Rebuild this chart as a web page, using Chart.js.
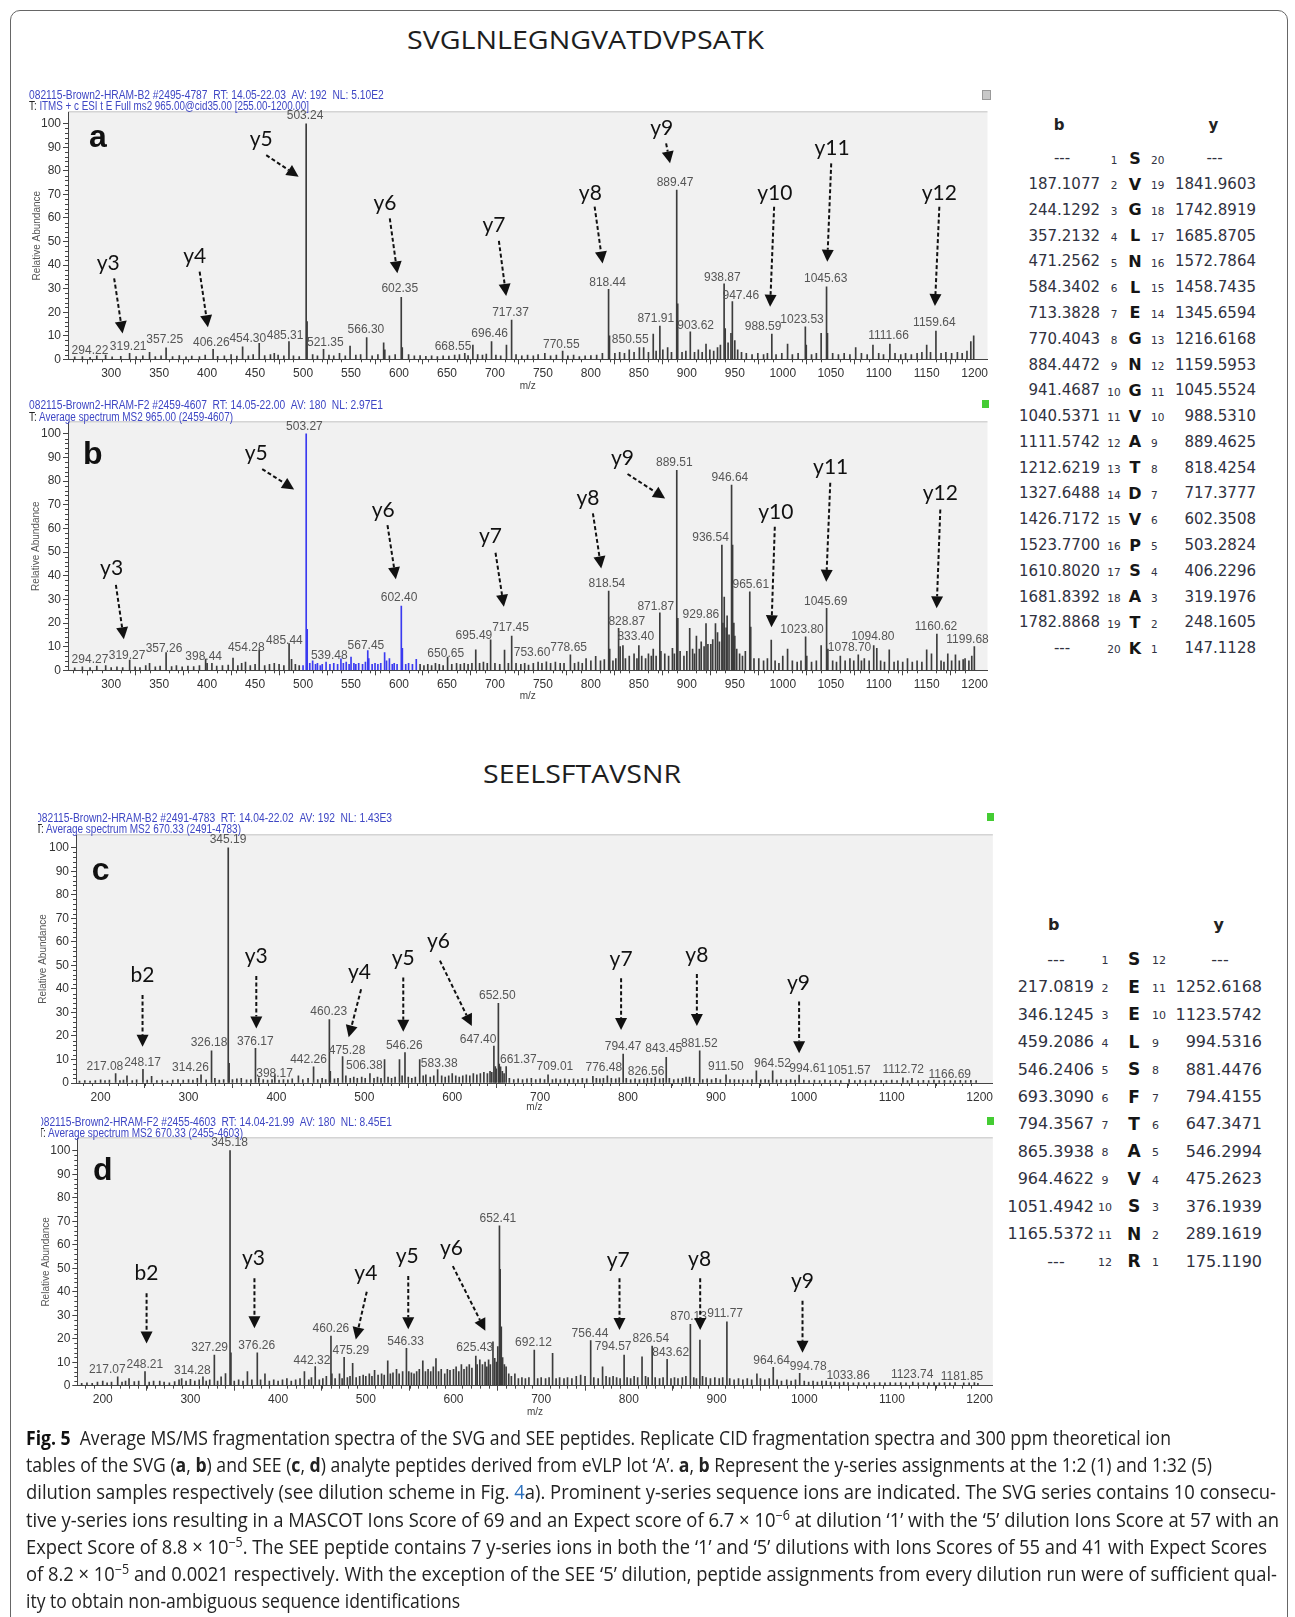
<!DOCTYPE html>
<html><head><meta charset="utf-8">
<script src="https://cdn.jsdelivr.net/npm/chart.js@4.4.1/dist/chart.umd.min.js"></script>
<style>
html,body{margin:0;padding:0;background:#fff;}
body{width:1295px;height:1617px;overflow:hidden;position:relative;}
.t{position:absolute;white-space:nowrap;line-height:1;transform-origin:0 50%;}
canvas{position:absolute;}
.clip{position:absolute;top:0;height:1617px;width:420px;overflow:hidden;}
.frame{position:absolute;left:10px;top:10px;width:1276px;height:1660px;border:1.5px solid #666;border-radius:10px;}
.icon{position:absolute;width:7px;height:8px;}
</style></head><body>
<div class="frame"></div>
<canvas id="ca" width="970" height="300" style="left:20px;top:100px"></canvas>
<canvas id="cb" width="970" height="300" style="left:20px;top:410px"></canvas>
<canvas id="cc" width="975" height="300" style="left:20px;top:822px"></canvas>
<canvas id="cd" width="975" height="300" style="left:20px;top:1125px"></canvas>
<div class="icon" style="left:982px;top:90px;background:#c8c8c8;border:1px solid #999"></div>
<div class="icon" style="left:982px;top:400px;background:#44cc33"></div>
<div class="icon" style="left:987px;top:813px;background:#44cc33"></div>
<div class="icon" style="left:987px;top:1117px;background:#44cc33"></div>
<script>
// ---------------- DATA ----------------
const xTicksSVG = [300,350,400,450,500,550,600,650,700,750,800,850,900,950,1000,1050,1100,1150,1200];
const xTicksSEE = [200,300,400,500,600,700,800,900,1000,1100,1200];
const yTicks = [0,10,20,30,40,50,60,70,80,90,100];

// panel a (SVG, dilution 1)
const mzA = [262,270,278,285,294.22,301,310,319.21,326,333,340,346,352,357.25,364,371,378,384,392,398,406.26,411,418,425,431,437,443,448,454.30,460,466,470,474,480,485.31,490,496,503.24,504.2,510,515,521.35,527,532,538,544,549,555,560,566.30,572,578,584,585.2,590,596,602.35,603.4,610,616,622,628,634,640,646,652,658,663,668.55,672,677,682,687,691,696.46,701,706,712,717.37,722,728,734,740,745,752,758,764,770.55,776,782,788,794,800,806,812,818.44,819.4,825,830,835,840,845,850.55,855,860,865,868,871.91,875,880,884,889.47,890.5,895,899,903.62,908,912,916,920,924,928,932,935,938.87,940,943,946,947.46,950,953,957,962,968,974,980,984,988.59,993,999,1005,1010,1016,1023.53,1024.5,1030,1035,1040,1045.63,1046.6,1052,1058,1064,1070,1076,1082,1088,1094,1100,1105,1111.66,1117,1123,1128,1134,1140,1145,1150,1154,1159.64,1165,1170,1176,1182,1187,1192,1196,1199];
const intA = [1,1.2,0.8,1.5,1.8,1,1.3,2.5,1.2,1.5,3,1.2,1.5,4.9,1.2,1.6,1,1.4,1.2,1.8,4.2,1.3,1.5,2,1.4,5.3,1.5,2,6.8,1.6,2,2.5,1.8,1.5,7.5,1.5,1.2,100,16,2,1.5,4.2,1.8,1.5,2.5,1.5,5.6,1.8,2,9.2,1.5,2,7,4,1.5,2,26.3,5,2,1.5,1.6,1.3,1.5,1.2,1.5,1.4,1.8,2,2.5,1.6,6,2,1.8,2.2,7.5,1.8,1.5,6,16.7,2,1.5,1.8,1.5,2,2.5,1.5,1.8,3.5,1.5,1.8,1.2,1.5,1.6,1.8,2.5,29.7,10,2.5,3,2.5,4,3,5,5,3,10.7,3.5,14.1,4,5,3,71.9,23.5,3,3.5,11.7,3,4,3,6.5,4,3.5,5,6,32,13,7,11,24.5,8,4,3,2.5,2,2.5,2,2.5,10.7,2,2.5,6.5,2,2.5,13.8,6,2,2.5,11,30.8,11,2.5,2,2.5,2,5,2.5,2,6,2.5,2,6.5,2.5,2,2.5,2,2.5,3,6,3,12,2.5,3,2.5,3,2.5,3.5,7.5,10];

// panel b (SVG, dilution 5): black trace and blue-highlighted region
const mzB = [262,270,278,285,294.27,300,306,312,319.27,325,330,336,340,346,351,357.26,363,368,374,380,386,392,398.44,400,405,410,416,422,427,432,436,440,445,450,454.28,460,465,470,475,480,485.44,488,492,496,622,626,630,634,638,642,646,650.65,655,660,664,668,672,676,680,684,688,692,695.49,700,705,710,714,717.45,722,727,731,735,740,745,749,753.60,758,763,768,772,778.65,783,787,791,795,800,805,810,814,818.54,819.6,823,826,828.87,830.5,833.40,836,840,845,848,850,853,857,860,863,865,868,871.87,873,877,881,885,887,889.51,890.6,893,897,900,903,906,908,910,913,915,918,920,922,925,927,929.86,932,934,936.54,937.6,939,941,942,944,946.64,947.7,949,950,952,955,958,961,965.61,966.6,970,975,980,984,988,992,996,1000,1005,1010,1015,1019,1023.80,1025,1030,1035,1040,1045.69,1047,1052,1056,1060,1065,1070,1074,1078.70,1082,1085,1090,1094.80,1098,1102,1106,1111,1116,1120,1125,1130,1135,1140,1145,1150,1155,1160.62,1165,1168,1172,1176,1180,1184,1188,1190,1194,1197,1199.68];
const intB = [1,1.5,1.2,1.8,2,1.2,1.5,1.2,4.3,1.5,1.2,2,3,1.5,1.8,7.5,1.6,2,1.5,1.8,1.6,2,4.7,3,3,1.8,2,2.2,5.2,2,3,3.5,2,2.5,8.5,2,2.5,3,2.5,2,11.3,4.6,2.5,2,2.5,2,2.5,2,3,2.5,2,5.6,2.5,3,2.5,3,2.5,3,8.7,3,3.5,3,12.9,3,2.5,8.6,3,14.5,3,2.5,3,2.2,3,3.5,3,3.6,3,3.5,3,3,6.5,3,3.5,3,5,4,5.9,4,4.5,33.5,9,4,5,17.7,10,10.5,5,6,7,5,10.5,6,5,7,6,9,6,24.3,8,7,6,9.3,7,84.6,22,8,6,8,17.7,9,7,14.5,9,12,10,19.8,11,11,13,19.8,16,12,53,20,31,18,23,15,78.3,53,20,14.5,9,7,6,8,33.2,18.3,5,5,4,5,12.8,4,3,6,9,4,3.5,4,14.2,6,3.5,4,10.5,26.2,9,4,3.5,6,4,5,4,6.5,4,5,4,10.5,9.3,4,3.5,8.7,3.5,4,3.5,5,3.5,4,3.5,8.7,7,15.3,4,3.5,7,4,6.5,4,4.5,5,4,6,10];
const mzBblue = [500,503.27,504.3,507,510,513,515,518,520,524,528,532,536,539.48,542,545,548,550,553,555,558,562,565,567.45,568.5,572,575,578,581,585,587,590,593,595,598,602.40,603.5,607,610,614,618];
const intBblue = [2,100,17.3,3,4,2.5,3,2,2.5,3.5,2.5,3,2.5,4.8,3,3.5,2.5,5.6,3,2.5,3,2.5,3.5,8.3,5,2.5,3,2.5,3,7.5,4,5,2.5,3,2.5,27.2,9.3,2.5,3,2.5,4.6];

// panel c (SEE, dilution 1)
const mzC = [176,182,188,194,200,205,210,217.08,222,226,230,236,241,248.17,253,258,264,270,276,282,288,294,300,305,310,314.26,320,326.18,330,335,340,345.19,346.2,350,355,360,366,371,376.17,380,385,390,395,398.17,403,408,413,418,425,430,436,442.26,447,452,456,460.23,461.3,466,470,475.28,479,484,488,492,497,501,506.38,511,515,519,523,527,531,535,540,543,546.26,550,554,558,563,567,570,575,579,583.38,588,592,596,600,604,608,612,616,620,624,628,632,636,640,643,645,647.40,649,650,652.50,653.5,655,657,659,661.37,665,670,675,680,685,690,695,700,705,709.01,714,718,723,728,733,738,743,748,753,760,764,768,772,776.48,781,786,790,794.47,798,803,808,813,818,822,826.56,831,836,840,843.45,847,852,857,862,866,870,875,881.52,885,890,895,900,905,911.50,916,921,926,931,936,941,946,951,956,960,964.52,969,974,980,985,990,994.61,1000,1006,1012,1018,1024,1030,1036,1042,1051.57,1058,1064,1070,1076,1082,1088,1094,1100,1106,1112.72,1118,1123,1130,1136,1142,1148,1154,1160,1166.69,1172,1178,1184,1190,1196];
const intC = [0.8,1,0.8,1,1.3,1,1.2,4,1,1.2,3,1,1.3,5.8,1.2,2.8,1,1.2,0.8,1.2,1.5,1.2,1.5,1.2,2,3.5,1.3,13.7,2,1.2,1.5,100,8.4,1.5,1.8,2,1.3,1.5,14.7,2.2,1.5,1.2,1.5,3.5,1.2,1.5,1.3,1.8,3,1.5,2,6.9,1.5,2,1.5,27,5,1.8,2,11.2,3,2,2.5,2,2.5,2,4,2,2.5,2,10,2.5,2,2.5,10,3,12.9,2.5,2,2.5,10,3,3.5,2.5,3,5.7,3,2.5,3,4,3,2.5,3,3.5,3,4,3.5,4,4.5,4,5,4.5,15.7,7,6,33.9,8,6.9,5,4,7,2,1.5,1.8,1.5,1.8,2,1.5,1.8,1.5,3.5,1.5,1.8,1.5,1.8,1.5,1.8,1.5,2,1.8,2.8,2,1.8,2,3,2,1.8,2.2,12.3,2,1.5,1.8,1.5,1.8,2,2,2.5,1.8,2,10.9,2,1.5,1.8,2,2.5,2.5,2,13.7,1.5,1.8,1.5,2,1.5,3.5,1.5,1.5,1.3,1.5,1.2,1.5,5.2,1.3,1.5,1.2,5.2,1.3,1.5,1.2,1.5,1.2,3.4,1.2,1,1.2,1,1.3,1,1.2,1,1.5,1,1.2,1,1.2,1,1.1,1,1.2,1,2.2,1,2,1,1.1,1,1.2,1,1.1,1,1,1.1,1,1.1,1];

// panel d (SEE, dilution 5)
const mzD = [176,182,188,194,200,205,210,217.07,222,226,230,236,241,248.21,253,258,265,270,276,282,287,290,295,300,305,310,314.28,318,322,327.29,331,335,340,345.18,346.2,350,355,360,365,370,376.26,380,385,390,395,400,405,410,415,420,425,430,435,438,442.32,447,451,455,460.26,461.3,465,470,473,475.29,479,482,485,489,493,497,500,504,507,510,514,518,521,525,528,531,535,538,542,546.33,549,552,555,558,561,565,568,571,574,577,580,583,586,590,593,596,600,603,606,609,612,615,618,621,625.43,627,630,633,636,638,640,642,645,647,649,650.5,652.41,653.2,654.5,656,658,660,663,666,670,674,678,682,686,692.12,696,700,705,709,713,717,721,726,730,735,740,745,750,756.44,760,765,770,774,778,782,786,790,794.57,798,802,806,810,815,819,822,826.54,830,835,839,843.62,848,852,856,861,865,870.13,874,877,881,884,888,893,898,903,907,911.77,915,920,925,930,935,940,946,950,955,960,964.64,969,974,980,985,990,994.78,1000,1005,1010,1015,1020,1025,1030,1035,1040,1045,1050,1056,1062,1068,1074,1080,1086,1092,1098,1104,1110,1116,1123.74,1130,1136,1142,1148,1154,1160,1166,1172,1181.85,1188,1194,1198];
const intD = [1,1.2,1,1.5,2,1.2,1.5,3.8,1.5,2,3,1.8,2,6,1.5,2,2,1.5,1.2,1.8,2.5,3,2,2.7,2,2.5,3.8,2,2.5,13,2,3.8,5.2,100,14,2,2.5,2,6,2.5,14,2.5,5,2,2.5,2,2.5,3,2,2.5,3,6,2.5,3.5,8.1,2.5,3,4,21.1,5,3,5,3,12.1,3.5,4,9.5,3.5,4,4.5,4,5,4,6.5,4.5,5,4.5,10.6,5,5.5,7,5,6,15.9,6,5.5,5,6,7,10.6,6,7,6,8,11.5,6,7,5,7,6.5,7,8,6,9,7,8,9,7.5,12.6,9,11,9,10,8,11,9,18.7,11.6,10,16.6,68,49.5,25,12,9,8,5,4,5,3,3.5,3,3.5,15.2,3,3.5,3,3.5,13.8,3,3.5,3,3.5,3,4,4.5,4,19.2,3.5,3,8,4,3.5,4,3.5,3,13,3.5,3,4,3.5,12.3,4,3.5,16.9,3.5,3,3.5,11.2,3,3.5,3,3.5,4,26.1,3.5,3,19.4,4,3.5,3,3.5,3,3.5,27.2,3,2.5,3,2.5,3,2.5,5,3,2.5,3,7.8,2.5,2,2.5,2,2.5,5.3,2,1.5,2,1.5,2,2,1.5,1.5,1.3,1.5,1.3,1.2,1.3,1.2,1.3,1.2,1.3,1.2,1.3,1.2,1.3,1.2,1.5,1.2,1.3,1.2,1.3,1.2,1.3,1.2,1.3,1.2,1.2,1.3,1];

// peak label annotations: [text, m/z position, abundance of label base]
const labelsA = [['294.22',277.9,2.0],['319.21',317.7,3.5],['357.25',355.8,6.3],['406.26',404.4,5.4],['454.30',442.4,7.1],['485.31',481.3,8.3],['503.24',502.1,101.4],['521.35',523.2,5.2],['566.30',565.5,10.8],['602.35',600.8,28.1],['668.55',656.3,3.7],['696.46',694.5,9.0],['717.37',716.2,17.9],['770.55',769.2,4.5],['818.44',817.4,30.9],['850.55',841,6.6],['871.91',867.6,15.4],['889.47',887.7,73.3],['903.62',909.2,12.6],['938.87',937,33],['947.46',956.3,25.3],['988.59',979.5,12],['1023.53',1020.1,15.1],['1045.63',1044.7,32.3],['1111.66',1110.2,8],['1159.64',1158,13.7]];
const labelsB = [['294.27',277.9,2.5],['319.27',316.6,4.4],['357.26',355.1,7.5],['398.44',396.4,4.1],['454.28',440.8,7.9],['485.44',480.6,10.9],['503.27',501.4,101.4],['539.48',527.3,4.4],['567.45',565.5,8.7],['602.40',600.1,28.8],['650.65',648.7,5.3],['695.49',678.1,12.9],['717.45',716.2,16.1],['753.60',738.7,5.6],['778.65',776.8,7.7],['818.54',816.7,34.7],['828.87',837.4,18.7],['833.40',846.8,12.3],['871.87',867.6,25],['889.51',887.0,86.1],['929.86',914.7,21.8],['936.54',924.8,54.2],['946.64',944.9,79.8],['965.61',966.7,34.4],['1023.80',1020.1,15.4],['1045.69',1044.7,27.3],['1078.70',1069.6,7.7],['1094.80',1093.9,12.6],['1160.62',1159.7,16.6],['1199.68',1192.6,11.2]];
const labelsC = [['217.08',204.9,4.9],['248.17',247.7,7.0],['314.26',302.2,4.6],['326.18',323.3,15.3],['345.19',344.9,101.7],['376.17',376.0,15.9],['398.17',397.9,2.2],['442.26',436.5,8.2],['460.23',459.5,28.4],['475.28',480.4,12.1],['506.38',500.0,5.7],['546.26',545.4,14.1],['583.38',585.2,6.5],['647.40',629.4,16.7],['652.50',651.3,35.4],['661.37',675.2,8.2],['709.01',716.8,4.9],['776.48',772.5,4.6],['794.47',794.4,13.6],['826.56',820.5,2.8],['843.45',840.6,12.7],['881.52',881.1,14.8],['911.50',911.3,4.9],['964.52',964.3,6.5],['994.61',1004.4,4.2],['1051.57',1051.3,3.2],['1112.72',1113.0,3.9],['1166.69',1166.0,1.8]];
const labelsD = [['217.07',205.2,5.1],['248.21',248.0,7.2],['314.28',302.2,4.6],['327.29',321.9,14.3],['345.18',344.6,101.5],['376.26',375.6,15.4],['442.32',438.6,8.6],['460.26',460.2,22.4],['475.29',483.0,12.9],['546.33',545.4,17.1],['625.43',624.2,14.3],['652.41',650.6,69.4],['692.12',691.2,16.4],['756.44',755.6,20.3],['794.57',782.1,14.6],['826.54',825.0,18.1],['843.62',847.7,12.2],['870.13',868.1,27.5],['911.77',909.7,28.8],['964.64',962.8,8.9],['994.78',1004.5,6.2],['1033.86',1050.0,2.5],['1123.74',1123.0,2.9],['1181.85',1179.9,2.0]];

// ion arrows: [ion, label m/z, label abundance, start m/z, start abundance, tip m/z, tip abundance]
const arrowsA = [['y3',296.9,41,303.1,34.4,311.9,11.0],['y4',387.0,43.8,392.2,37.2,400.8,13.6],['y5',456.4,93.4,461.6,86.7,495.4,77.5],['y6',585.3,66.2,590.4,59.8,598.3,36.5],['y7',698.9,57.0,704.1,50.3,711.7,26.9],['y8',799.4,70.7,803.9,64.8,812.2,40.7],['y9',873.8,98.0,878.4,91.7,882.5,83.2],['y10',991.7,70.7,991.0,64.8,986.8,22.3],['y11',1051.3,89.5,1050.5,83.2,1046.4,41.4],['y12',1163.2,70.7,1163.2,64.8,1158.6,22.6]];
const arrowsB = [['y3',300.4,43.1,304.9,36.1,313.2,13.1],['y5',451.2,91.9,457.4,85.1,490.7,76.5],['y6',583.5,67.8,588.0,61.4,596.7,38.5],['y7',695.4,56.5,700.6,49.7,709.3,26.9],['y8',796.9,72.7,802.1,66.4,810.8,43.1],['y9',833.0,89.6,838.2,83.0,877.4,72.7],['y10',992.7,67.0,991.7,60.7,988.2,18.2],['y11',1049.9,85.8,1049.5,79.3,1045.3,37.4],['y12',1164.2,74.8,1164.2,68.0,1160.4,26.2]];
const arrowsC = [['b2',247.7,45.9,247.7,37.4,247.7,15.4],['y3',377.1,53.7,377.1,45.5,377.1,23.2],['y4',494.4,46.9,496.3,39.8,482.2,19.4],['y5',544.3,53.0,544.3,44.8,544.3,21.8],['y6',584.4,60.1,586.0,52.0,622.3,24.2],['y7',792.1,52.6,792.1,44.5,792.1,22.5],['y8',878.3,54.4,878.3,46.3,878.3,24.2],['y9',993.8,42.6,994.6,34.6,994.6,12.6]];
const arrowsD = [['b2',250.0,47.8,250.0,39.3,250.0,18.0],['y3',371.9,54.2,373.0,45.7,373.0,24.4],['y4',500.0,47.8,501.1,40.0,488.6,19.7],['y5',547.2,54.9,548.4,46.7,548.4,24.0],['y6',597.7,58.5,599.2,50.9,636.3,23.4],['y7',787.8,53.5,789.3,45.7,789.3,23.7],['y8',880.6,53.8,881.3,45.7,881.3,23.7],['y9',998.0,44.3,998.0,36.2,998.0,14.0]];

// theoretical ion tables
const svgResidues = ['S','V','G','L','N','L','E','G','N','G','V','A','T','D','V','P','S','A','T','K'];
const svgB = ['---','187.1077','244.1292','357.2132','471.2562','584.3402','713.3828','770.4043','884.4472','941.4687','1040.5371','1111.5742','1212.6219','1327.6488','1426.7172','1523.7700','1610.8020','1681.8392','1782.8868','---'];
const svgY = ['---','1841.9603','1742.8919','1685.8705','1572.7864','1458.7435','1345.6594','1216.6168','1159.5953','1045.5524','988.5310','889.4625','818.4254','717.3777','602.3508','503.2824','406.2296','319.1976','248.1605','147.1128'];
const seeResidues = ['S','E','E','L','S','F','T','A','V','S','N','R'];
const seeB = ['---','217.0819','346.1245','459.2086','546.2406','693.3090','794.3567','865.3938','964.4622','1051.4942','1165.5372','---'];
const seeY = ['---','1252.6168','1123.5742','994.5316','881.4476','794.4155','647.3471','546.2994','475.2623','376.1939','289.1619','175.1190'];

// ---------------- CHARTS ----------------
const NARROW = '"Liberation Sans Narrow", "Liberation Sans", Arial, sans-serif';
function pts(m, v){ return m.map((x,i)=>({x:x, y:v[i]})); }

function makeAnno(cfg){
  return {
    id: 'anno'+cfg.key,
    beforeDraw(chart){
      const {ctx, chartArea:a} = chart;
      ctx.save();
      ctx.fillStyle = '#f1f1f1';
      ctx.fillRect(a.left, a.top, a.right-a.left, a.bottom-a.top);
      ctx.fillStyle = '#d4d4d4';
      ctx.fillRect(a.left, a.top-1, a.right-a.left, 1.5);
      ctx.restore();
    },
    afterDraw(chart){
      const {ctx, chartArea:a, scales:{x, y}} = chart;
      ctx.save();
      ctx.strokeStyle = '#444'; ctx.lineWidth = 1;
      ctx.beginPath();
      for (let v = Math.ceil(cfg.xMin/10)*10; v <= 1200; v += 10){
        if (cfg.xTicks.includes(v)) continue;
        const px = Math.round(x.getPixelForValue(v)) + 0.5;
        ctx.moveTo(px, a.bottom); ctx.lineTo(px, a.bottom + 3);
      }
      for (let v = 2; v < 100; v += 2){
        if (v % 10 === 0) continue;
        const py = Math.round(y.getPixelForValue(v)) + 0.5;
        ctx.moveTo(a.left - 3, py); ctx.lineTo(a.left, py);
      }
      ctx.stroke();
      ctx.font = '12px ' + NARROW;
      ctx.fillStyle = '#555'; ctx.textAlign = 'center'; ctx.textBaseline = 'alphabetic';
      cfg.labels.forEach(([t, m, v]) => ctx.fillText(t, x.getPixelForValue(m), y.getPixelForValue(v) - 1));
      cfg.arrows.forEach(([t, lm, lv, sm, sv, em, ev]) => {
        const sx = x.getPixelForValue(sm), sy = y.getPixelForValue(sv);
        const ex = x.getPixelForValue(em), ey = y.getPixelForValue(ev);
        const dx = ex-sx, dy = ey-sy, L = Math.hypot(dx, dy), ux = dx/L, uy = dy/L;
        const hl = 12, hw = 6;
        ctx.strokeStyle = '#111'; ctx.lineWidth = 2; ctx.setLineDash([4, 2.5]);
        ctx.beginPath(); ctx.moveTo(sx, sy); ctx.lineTo(ex - ux*hl, ey - uy*hl); ctx.stroke();
        ctx.setLineDash([]);
        ctx.fillStyle = '#111';
        ctx.beginPath(); ctx.moveTo(ex, ey);
        ctx.lineTo(ex - ux*hl - uy*hw, ey - uy*hl + ux*hw);
        ctx.lineTo(ex - ux*hl + uy*hw, ey - uy*hl - ux*hw);
        ctx.closePath(); ctx.fill();
        ctx.font = '21px Lato, "Open Sans", sans-serif';
        ctx.textAlign = 'center'; ctx.textBaseline = 'middle';
        ctx.fillText(t, x.getPixelForValue(lm), y.getPixelForValue(lv));
      });
      ctx.restore();
    }
  };
}

function spectrum(id, cfg){
  return new Chart(document.getElementById(id), {
    type: 'bar',
    data: { datasets: cfg.sets.map(s => ({ data: pts(s.mz, s.v), backgroundColor: s.color, borderWidth: 0, barThickness: 1, grouped: false })) },
    options: {
      responsive: false, animation: false, events: [],
      layout: { padding: { top: cfg.padTop, left: 0, right: 0, bottom: 0 } },
      plugins: { legend: { display: false }, tooltip: { enabled: false } },
      scales: {
        x: {
          type: 'linear', min: cfg.xMin, max: cfg.xMax, offset: false,
          afterBuildTicks: ax => { ax.ticks = cfg.xTicks.map(v => ({ value: v })); },
          afterFit: ax => { ax.height = cfg.xAxisH; },
          grid: { drawOnChartArea: false, drawTicks: true, tickLength: 5, color: '#444' },
          border: { color: '#444', width: 1 },
          ticks: { font: { family: NARROW, size: 12 }, color: '#333', padding: 2, maxRotation: 0, autoSkip: false, callback: v => String(v) },
          title: { display: true, text: 'm/z', font: { family: NARROW, size: 10 }, color: '#444', padding: { top: 0, bottom: cfg.mzPad } }
        },
        y: {
          min: 0, max: cfg.yMax,
          afterBuildTicks: ax => { ax.ticks = yTicks.map(v => ({ value: v })); },
          afterFit: ax => { ax.width = cfg.yAxisW; },
          grid: { drawOnChartArea: false, drawTicks: true, tickLength: 5, color: '#444' },
          border: { color: '#444', width: 1 },
          ticks: { font: { family: NARROW, size: 12 }, color: '#333', padding: 2, autoSkip: false, callback: v => String(v) },
          title: { display: true, text: 'Relative Abundance', font: { family: '"Liberation Sans", Arial, sans-serif', size: 10 }, color: '#555', padding: { top: cfg.yTitlePad, bottom: 0 } }
        }
      }
    },
    plugins: [makeAnno(cfg)]
  });
}

spectrum('ca', { key:'a', xMin:255, xMax:1213.4, yMax:105, xTicks:xTicksSVG, padTop:12, xAxisH:40.7, yAxisW:48, mzPad:8, yTitlePad:11,
  sets:[{mz:mzA, v:intA, color:'#3c3c3c'}], labels:labelsA, arrows:arrowsA });
spectrum('cb', { key:'b', xMin:255, xMax:1213.4, yMax:105, xTicks:xTicksSVG, padTop:12, xAxisH:39.7, yAxisW:48, mzPad:8, yTitlePad:10.7,
  sets:[{mz:mzB, v:intB, color:'#3c3c3c'},{mz:mzBblue, v:intBblue, color:'#3a3af0'}], labels:labelsB, arrows:arrowsB });
spectrum('cc', { key:'c', xMin:172, xMax:1215, yMax:105.4, xTicks:xTicksSEE, padTop:13, xAxisH:39, yAxisW:56, mzPad:9, yTitlePad:17.3,
  sets:[{mz:mzC, v:intC, color:'#3c3c3c'}], labels:labelsC, arrows:arrowsC });
spectrum('cd', { key:'d', xMin:171, xMax:1215, yMax:105.4, xTicks:xTicksSEE, padTop:13, xAxisH:39.3, yAxisW:57.3, mzPad:7, yTitlePad:20.7,
  sets:[{mz:mzD, v:intD, color:'#3c3c3c'}], labels:labelsD, arrows:arrowsD });

// ---------------- TEXT ----------------
function txt(html, o){
  const d = document.createElement('div'); d.className = 't'; d.innerHTML = html;
  d.style.fontSize = o.size + 'px'; d.style.fontFamily = o.family;
  if (o.weight) d.style.fontWeight = o.weight;
  d.style.color = o.color || '#222';
  (o.parent || document.body).appendChild(d);
  let w = d.getBoundingClientRect().width;
  if (o.w){ d.style.transform = 'scaleX(' + (o.w / w) + ')'; w = o.w; }
  let left = o.x;
  if (o.align === 'right') left = o.x - w; else if (o.align === 'center') left = o.x - w/2;
  d.style.left = left + 'px';
  d.style.top = (o.cy - o.size/2 + (o.dy || 0)) + 'px';
  return d;
}
const OPEN = '"Open Sans", "Noto Sans", sans-serif';
const DV = '"DejaVu Sans", Verdana, sans-serif';
txt('SVGLNLEGNGVATDVPSATK', {x:585, cy:39, size:26, family:OPEN, color:'#1e1e1e', w:357, align:'center'});
txt('SEELSFTAVSNR', {x:582, cy:773, size:26, family:OPEN, color:'#1e1e1e', w:198, align:'center'});

const HB = '#3e46c4';
function hdr(l1, l2, x, cy1, cy2, w1, w2, clipX){
  let parent = document.body, off = 0;
  if (clipX){ parent = document.createElement('div'); parent.className = 'clip'; parent.style.left = clipX + 'px'; document.body.appendChild(parent); off = clipX; }
  txt(l1, {x:x-off, cy:cy1, size:12, family:NARROW, color:HB, w:w1, parent});
  txt('<span style="color:#222">T:</span> ' + l2, {x:x-off, cy:cy2, size:12, family:NARROW, color:HB, w:w2, parent});
}
hdr('082115-Brown2-HRAM-B2 #2495-4787&nbsp;&nbsp;RT: 14.05-22.03&nbsp;&nbsp;AV: 192&nbsp;&nbsp;NL: 5.10E2', 'ITMS + c ESI t E Full ms2 965.00@cid35.00 [255.00-1200.00]', 29.3, 95, 106, 354.7, 280);
hdr('082115-Brown2-HRAM-F2 #2459-4607&nbsp;&nbsp;RT: 14.05-22.00&nbsp;&nbsp;AV: 180&nbsp;&nbsp;NL: 2.97E1', 'Average spectrum MS2 965.00 (2459-4607)', 29.3, 405, 416.7, 354, 204);
hdr('082115-Brown2-HRAM-B2 #2491-4783&nbsp;&nbsp;RT: 14.04-22.02&nbsp;&nbsp;AV: 192&nbsp;&nbsp;NL: 1.43E3', 'Average spectrum MS2 670.33 (2491-4783)', 35.5, 818.3, 829.3, 356, 205, 38.3);
hdr('082115-Brown2-HRAM-F2 #2455-4603&nbsp;&nbsp;RT: 14.04-21.99&nbsp;&nbsp;AV: 180&nbsp;&nbsp;NL: 8.45E1', 'Average spectrum MS2 670.33 (2455-4603)', 37.5, 1121.7, 1132.7, 354, 205, 40.7);

// panel letters (baseline placement)
function letter(ch, cx, base){
  const d = document.createElement('div'); d.className = 't'; d.textContent = ch;
  d.style.font = 'bold 32px "Liberation Sans", Arial, sans-serif'; d.style.color = '#111';
  d.style.width = '40px'; d.style.textAlign = 'center';
  d.style.left = (cx - 20) + 'px'; d.style.top = (base - 27.1) + 'px';
  document.body.appendChild(d);
}
letter('a', 98, 145); letter('b', 92.7, 461.7); letter('c', 100.7, 878.3); letter('d', 102.7, 1178.3);

// ion tables
function table(res, bv, yv, o){
  const n = res.length, col = '#30323f';
  txt('b', {x:o.bx, cy:o.hy, size:o.fs, family:DV, weight:'bold', color:'#222', align:'center'});
  txt('y', {x:o.yx, cy:o.hy, size:o.fs, family:DV, weight:'bold', color:'#222', align:'center'});
  for (let i = 0; i < n; i++){
    const cy = o.r0 + i*o.dr;
    if (bv[i] === '---') txt('---', {x:o.bDash, cy, size:o.fs, family:DV, color:col, align:'center'});
    else txt(bv[i], {x:o.bRight, cy, size:o.fs, family:DV, color:col, align:'right'});
    txt(String(i+1), {x:o.iB, cy, size:o.is, family:DV, color:col, align:'center', dy:1});
    txt(res[i], {x:o.rx, cy, size:o.fs+1, family:DV, weight:'bold', color:'#151515', align:'center'});
    txt(String(n-i), {x:o.iY, cy, size:o.is, family:DV, color:col, dy:1});
    if (yv[i] === '---') txt('---', {x:o.yDash, cy, size:o.fs, family:DV, color:col, align:'center'});
    else txt(yv[i], {x:o.yRight, cy, size:o.fs, family:DV, color:col, align:'right'});
  }
}
table(svgResidues, svgB, svgY, {bx:1059, yx:1213.5, hy:125.8, r0:158.8, dr:25.78, fs:15, is:10.5, bRight:1100, bDash:1062, iB:1114, rx:1135, iY:1151, yRight:1256, yDash:1214.5});
table(seeResidues, seeB, seeY, {bx:1053.7, yx:1218.6, hy:924.8, r0:959.9, dr:27.43, fs:16, is:11, bRight:1094, bDash:1056, iB:1105, rx:1134, iY:1152, yRight:1262, yDash:1220});

// caption
const SUP = s => '<sup style="font-size:0.68em;vertical-align:0.5em;line-height:0">' + s + '</sup>';
const capLines = [
  '<b style="color:#111">Fig. 5</b>&nbsp;&nbsp;Average MS/MS fragmentation spectra of the SVG and SEE peptides. Replicate CID fragmentation spectra and 300 ppm theoretical ion',
  'tables of the SVG (<b>a</b>, <b>b</b>) and SEE (<b>c</b>, <b>d</b>) analyte peptides derived from eVLP lot ‘A’. <b>a</b>, <b>b</b> Represent the y-series assignments at the 1:2 (1) and 1:32 (5)',
  'dilution samples respectively (see dilution scheme in Fig. <span style="color:#2a6ebb">4</span>a). Prominent y-series sequence ions are indicated. The SVG series contains 10 consecu-',
  'tive y-series ions resulting in a MASCOT Ions Score of 69 and an Expect score of 6.7 × 10' + SUP('−6') + ' at dilution ‘1’ with the ‘5’ dilution Ions Score at 57 with an',
  'Expect Score of 8.8 × 10' + SUP('−5') + '. The SEE peptide contains 7 y-series ions in both the ‘1’ and ‘5’ dilutions with Ions Scores of 55 and 41 with Expect Scores',
  'of 8.2 × 10' + SUP('−5') + ' and 0.0021 respectively. With the exception of the SEE ‘5’ dilution, peptide assignments from every dilution run were of sufficient qual-',
  'ity to obtain non-ambiguous sequence identifications'
];
const capWidths = [1145, 1186, 1250, 1253, 1241, 1251, 434];
capLines.forEach((h, i) => txt(h, {x:25.8, cy:1438 + i*27.2, size:20, family:OPEN, color:'#222', w:capWidths[i]}));
</script>
</body></html>
